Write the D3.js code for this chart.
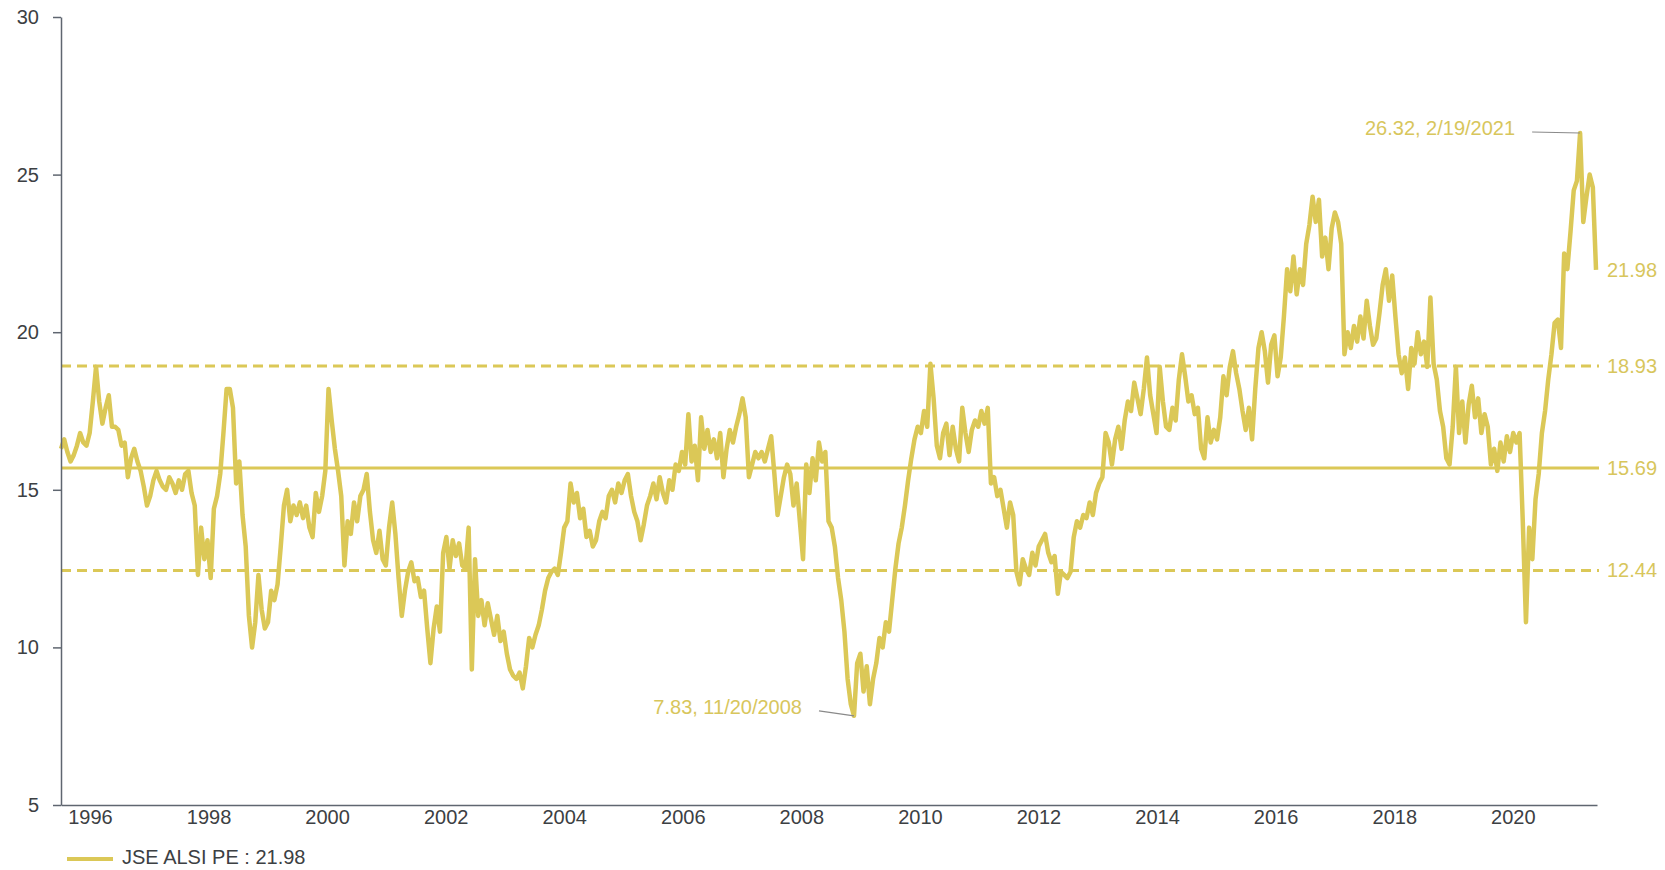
<!DOCTYPE html>
<html>
<head>
<meta charset="utf-8">
<script src="https://cdn.jsdelivr.net/npm/d3@7"></script>
<style>
  html, body { margin: 0; padding: 0; background: #fff; }
  svg { display: block; font-family: "Liberation Sans", Arial, sans-serif; }
</style>
</head>
<body>
<svg id="chart" width="1665" height="870"></svg>
<script>
// ---------------- DATA ----------------
const seriesName = "JSE ALSI PE";
const firstDate = "1995-07-07";
const lastDate = "2021-05-28";
// P/E readings, evenly spaced in time from firstDate to lastDate
const peValues = [
  16.3,16.6,16.2,15.9,16.1,16.4,16.8,16.5,16.4,16.8,
  17.8,18.9,17.8,17.1,17.6,18.0,17.0,17.0,16.9,16.4,
  16.5,15.4,16.0,16.3,15.9,15.6,15.1,14.5,14.8,15.3,
  15.6,15.3,15.1,15.0,15.4,15.2,14.9,15.3,15.0,15.5,
  15.6,14.9,14.5,12.3,13.8,12.8,13.4,12.2,14.4,14.8,
  15.5,16.8,18.2,18.2,17.6,15.2,15.9,14.2,13.2,11.0,
  10.0,10.8,12.3,11.2,10.6,10.8,11.8,11.5,12.0,13.2,
  14.5,15.0,14.0,14.5,14.2,14.6,14.1,14.5,13.8,13.5,
  14.9,14.3,14.8,15.6,18.2,17.2,16.3,15.6,14.8,12.6,
  14.0,13.6,14.6,14.0,14.8,15.0,15.5,14.3,13.4,13.0,
  13.7,12.8,12.6,13.8,14.6,13.6,12.2,11.0,11.8,12.4,
  12.7,12.1,12.2,11.6,11.8,10.6,9.5,10.6,11.3,10.5,
  13.0,13.5,12.5,13.4,12.9,13.3,12.6,12.5,13.8,9.3,
  12.8,11.0,11.5,10.7,11.4,10.9,10.4,11.0,10.2,10.5,
  9.8,9.3,9.1,9.0,9.2,8.7,9.4,10.3,10.0,10.4,
  10.7,11.2,11.8,12.2,12.4,12.5,12.3,13.0,13.8,14.0,
  15.2,14.6,14.9,14.1,14.4,13.5,13.7,13.2,13.4,14.0,
  14.3,14.1,14.8,15.0,14.6,15.2,14.9,15.3,15.5,14.8,
  14.3,14.0,13.4,13.9,14.5,14.8,15.2,14.7,15.4,14.9,
  14.6,15.3,15.0,15.8,15.6,16.2,15.8,17.4,15.9,16.4,
  15.3,17.3,16.3,16.9,16.2,16.6,16.0,16.8,15.4,16.3,
  16.9,16.5,17.0,17.4,17.9,17.3,15.4,15.8,16.2,16.0,
  16.2,15.9,16.3,16.7,15.5,14.2,14.8,15.4,15.8,15.5,
  14.5,15.2,14.0,12.8,15.8,14.9,16.0,15.3,16.5,15.9,
  16.2,14.0,13.8,13.2,12.2,11.5,10.5,9.0,8.2,7.83,
  9.5,9.8,8.6,9.4,8.2,9.0,9.5,10.3,10.0,10.8,
  10.5,11.5,12.5,13.3,13.8,14.5,15.3,16.0,16.6,17.0,
  16.8,17.5,17.0,19.0,17.9,16.4,16.0,16.8,17.1,16.1,
  17.0,16.3,15.9,17.6,16.8,16.2,16.9,17.2,17.0,17.5,
  17.1,17.6,15.2,15.4,14.8,15.0,14.4,13.8,14.6,14.2,
  12.4,12.0,12.8,12.5,12.3,13.0,12.6,13.2,13.4,13.6,
  13.0,12.7,12.9,11.7,12.4,12.3,12.2,12.4,13.5,14.0,
  13.8,14.2,14.1,14.6,14.2,14.9,15.2,15.4,16.8,16.5,
  15.8,16.6,17.0,16.3,17.2,17.8,17.5,18.4,17.9,17.4,
  18.2,19.2,18.0,17.4,16.8,18.9,17.8,17.0,16.9,17.6,
  17.2,18.5,19.3,18.6,17.8,18.0,17.4,17.6,16.3,16.0,
  17.3,16.5,16.9,16.6,17.3,18.6,18.0,18.9,19.4,18.7,
  18.2,17.5,16.9,17.6,16.6,18.2,19.5,20.0,19.4,18.4,
  19.6,19.9,18.6,19.2,20.5,22.0,21.3,22.4,21.2,22.0,
  21.5,22.8,23.4,24.3,23.5,24.2,22.4,23.0,22.0,23.3,
  23.8,23.5,22.8,19.3,20.0,19.5,20.2,19.7,20.5,19.8,
  21.0,20.2,19.6,19.8,20.6,21.5,22.0,21.0,21.8,20.5,
  19.3,18.7,19.2,18.2,19.5,19.0,20.0,19.3,19.7,18.9,
  21.1,19.0,18.5,17.5,17.0,16.0,15.8,17.0,18.9,16.8,
  17.8,16.5,17.7,18.3,17.3,17.9,16.8,17.4,17.0,15.8,
  16.3,15.6,16.5,15.9,16.7,16.2,16.8,16.5,16.8,14.0,
  10.8,13.8,12.8,14.7,15.5,16.8,17.5,18.5,19.3,20.3,
  20.4,19.5,22.5,22.0,23.2,24.5,24.8,26.32,23.5,24.3,
  25.0,24.6,21.98
];
const meanValue = 15.69;
const upperBand = 18.93;
const lowerBand = 12.44;
const lastValue = 21.98;
const peakLabel = "26.32, 2/19/2021";
const troughLabel = "7.83, 11/20/2008";
const yTicks = [5, 10, 15, 20, 25, 30];
const xTickYears = [1996,1998,2000,2002,2004,2006,2008,2010,2012,2014,2016,2018,2020];
const xDomain = ["1995-07-07", "2021-06-03"];

// ---------------- STYLE ----------------
const gold = "#dbc857";
const goldText = "#d8c65c";
const axisColor = "#5f6670";
const textColor = "#3c4043";
const fontSize = 20;

const svg = d3.select("#chart");
const mLeft = 61, mRight = 1597, mTop = 17, mBottom = 805;

const parse = d3.timeParse("%Y-%m-%d");
const t0 = parse(firstDate), t1 = parse(lastDate);
const idxToDate = d3.scaleLinear().domain([0, peValues.length - 1]).range([+t0, +t1]);
const data = peValues.map((v, i) => ({ date: new Date(idxToDate(i)), value: v }));

const x = d3.scaleTime().domain(xDomain.map(parse)).range([mLeft, mRight]);
const y = d3.scaleLinear().domain([5, 30]).range([mBottom, mTop]);

// reference lines
const refs = [
  { v: upperBand, dash: "10,6" },
  { v: meanValue, dash: null },
  { v: lowerBand, dash: "10,6" }
];
svg.append("g").selectAll("line").data(refs).join("line")
  .attr("x1", mLeft).attr("x2", mRight + 2)
  .attr("y1", d => y(d.v)).attr("y2", d => y(d.v))
  .attr("stroke", gold).attr("stroke-width", 3)
  .attr("stroke-dasharray", d => d.dash);

// series line
const line = d3.line().x(d => x(d.date)).y(d => y(d.value));
svg.append("path").datum(data)
  .attr("fill", "none").attr("stroke", gold)
  .attr("stroke-width", 4.5).attr("stroke-linejoin", "round")
  .attr("d", line);

// y axis
const yAxis = d3.axisLeft(y).tickValues(yTicks).tickSize(8).tickSizeOuter(0).tickPadding(14);
const gy = svg.append("g").attr("transform", `translate(${mLeft},0)`).call(yAxis);
gy.select(".domain").attr("stroke", axisColor).attr("stroke-width", 1.5);
gy.selectAll(".tick line").attr("stroke", axisColor).attr("stroke-width", 1.5);
gy.selectAll(".tick text").attr("fill", textColor).attr("font-size", fontSize)
  .attr("font-family", "Liberation Sans, Arial, sans-serif");

// x axis
const xAxis = d3.axisBottom(x).tickValues(xTickYears.map(yr => new Date(yr, 0, 1)))
  .tickFormat(d3.timeFormat("%Y")).tickSize(0).tickSizeOuter(0).tickPadding(5);
const gx = svg.append("g").attr("transform", `translate(0,${mBottom})`).call(xAxis);
gx.select(".domain").attr("stroke", axisColor).attr("stroke-width", 1.5);
gx.selectAll(".tick text").attr("fill", textColor).attr("font-size", fontSize)
  .attr("font-family", "Liberation Sans, Arial, sans-serif");

// right side labels
const rightLabels = [upperBand, meanValue, lowerBand, lastValue];
svg.append("g").selectAll("text").data(rightLabels).join("text")
  .attr("x", mRight + 10).attr("y", d => y(d)).attr("dy", "0.35em")
  .attr("fill", goldText).attr("font-size", fontSize)
  .text(d => d.toFixed(2));

// annotations for max / min
const maxPt = data.reduce((a, b) => (b.value > a.value ? b : a));
const minPt = data.reduce((a, b) => (b.value < a.value ? b : a));
const annots = [
  { p: maxPt, text: peakLabel, lead: 48, gap: 17, dy: -1 },
  { p: minPt, text: troughLabel, lead: 35, gap: 17, dy: -5 }
];
annots.forEach(a => {
  const px = x(a.p.date), py = y(a.p.value);
  svg.append("line")
    .attr("x1", px - a.lead).attr("y1", py + a.dy)
    .attr("x2", px).attr("y2", py)
    .attr("stroke", "#8a8a8a").attr("stroke-width", 1.2);
  svg.append("text")
    .attr("x", px - a.lead - a.gap).attr("y", py + a.dy - 4)
    .attr("text-anchor", "end").attr("dy", "0.35em")
    .attr("fill", goldText).attr("font-size", fontSize)
    .text(a.text);
});

// legend
const lg = svg.append("g");
lg.append("line").attr("x1", 67).attr("x2", 113).attr("y1", 859).attr("y2", 859)
  .attr("stroke", gold).attr("stroke-width", 4);
lg.append("text").attr("x", 122).attr("y", 857).attr("dy", "0.35em")
  .attr("fill", textColor).attr("font-size", fontSize)
  .text(`${seriesName} : ${lastValue.toFixed(2)}`);
</script>
</body>
</html>
